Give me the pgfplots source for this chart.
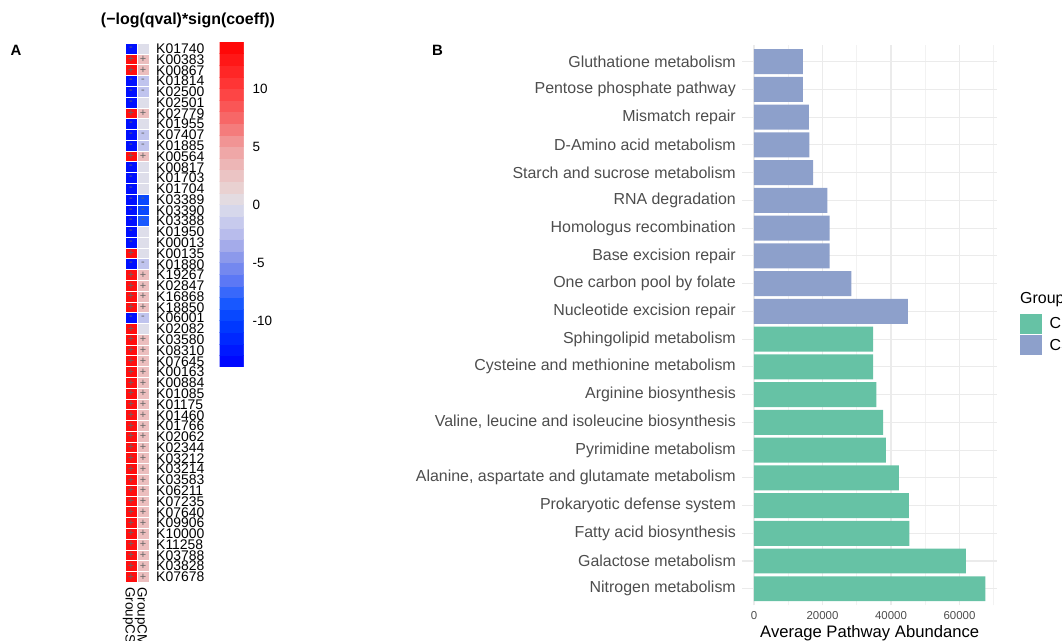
\documentclass[border=0pt]{standalone}
\usepackage{fontspec}
\setmainfont{Liberation Sans}
\usepackage{pgfplots}
\pgfplotsset{compat=1.18}
\definecolor{cpgreen}{HTML}{66C2A5}
\definecolor{csblue}{HTML}{8DA0CB}
\definecolor{axgrey}{HTML}{4D4D4D}
\newcommand{\fs}[1]{\fontsize{#1}{#1}\selectfont}
\begin{document}
\begin{tikzpicture}[x=1bp,y=1bp]
\pgfplotsset{
  colormap={bwr}{
    rgb255(0cm)=(0,0,255)
    rgb255(2cm)=(0,32,255)
    rgb255(4cm)=(0,64,255)
    rgb255(6cm)=(32,96,255)
    rgb255(7cm)=(80,112,248)
    rgb255(9cm)=(128,144,236)
    rgb255(11cm)=(176,180,234)
    rgb255(12cm)=(192,196,238)
    rgb255(14cm)=(222,222,234)
    rgb255(15cm)=(232,216,216)
    rgb255(17cm)=(236,190,190)
    rgb255(19cm)=(240,160,160)
    rgb255(21cm)=(245,112,112)
    rgb255(24cm)=(255,60,60)
    rgb255(28cm)=(255,0,0)
  }
}
% ---------------- Panel A: heatmap ----------------
\begin{axis}[
  at={(125bp,58.7bp)}, anchor=south west,
  scale only axis, width=24bp, height=539bp,
  xmin=-0.5, xmax=1.5, ymin=-0.5, ymax=49.5, y dir=reverse,
  axis line style={draw=none}, major tick length=0pt,
  xtick={0,1}, xticklabels={GroupCS,GroupCM},
  xticklabel style={yshift=-5bp, xshift=-2bp, rotate=-90, anchor=west, inner sep=0pt, font=\fs{13.5}},
  ytick={0,...,49},
  yticklabels={K01740,K00383,K00867,K01814,K02500,K02501,K02779,K01955,K07407,K01885,
    K00564,K00817,K01703,K01704,K03389,K03390,K03388,K01950,K00013,K00135,
    K01880,K19267,K02847,K16868,K18850,K06001,K02082,K03580,K08310,K07645,
    K00163,K00884,K01085,K01175,K01460,K01766,K02062,K02344,K03212,K03214,
    K03583,K06211,K07235,K07640,K09906,K10000,K11258,K03788,K03828,K07678},
  yticklabel pos=right,
  yticklabel style={anchor=west, inner sep=0pt, xshift=7bp, font=\fs{14}},
  point meta min=-14, point meta max=14,
  colorbar sampled,
  colorbar style={
    at={(parent axis.north east)}, anchor=north west,
    xshift=62bp, yshift=1.3bp,
    scale only axis, width=24bp, height=325bp,
    samples=29,
    axis line style={draw=none}, major tick length=0pt,
    ytick={-10,-5,0,5,10}, yticklabels={-10,-5,0,5,10},
    yticklabel style={anchor=west, inner sep=0pt, xshift=9bp, font=\fs{13.5}},
  },
]
\addplot[matrix plot, shader=faceted, mesh/cols=2, mesh/rows=50, point meta=explicit,
  faceted color=white, line width=0.9bp] table[meta=v] {
x y v
0 0 -13
1 0 0
0 1 13
1 1 3
0 2 13
1 2 3
0 3 -13
1 3 -2
0 4 -13
1 4 -2
0 5 -13
1 5 0
0 6 13
1 6 3
0 7 -13
1 7 0
0 8 -13
1 8 -2
0 9 -13
1 9 -2
0 10 13
1 10 3
0 11 -13
1 11 0
0 12 -13
1 12 0
0 13 -13
1 13 0
0 14 -13
1 14 -9.5
0 15 -13
1 15 -9.5
0 16 -13
1 16 -8.5
0 17 -13
1 17 0
0 18 -13
1 18 0
0 19 13
1 19 0
0 20 -13
1 20 -2
0 21 13
1 21 3
0 22 13
1 22 3
0 23 13
1 23 3
0 24 13
1 24 3
0 25 -13
1 25 -2
0 26 13
1 26 0
0 27 13
1 27 3
0 28 13
1 28 3
0 29 13
1 29 3
0 30 13
1 30 3
0 31 13
1 31 3
0 32 13
1 32 3
0 33 13
1 33 3
0 34 13
1 34 3
0 35 13
1 35 3
0 36 13
1 36 3
0 37 13
1 37 3
0 38 13
1 38 3
0 39 13
1 39 3
0 40 13
1 40 3
0 41 13
1 41 3
0 42 13
1 42 3
0 43 13
1 43 3
0 44 13
1 44 3
0 45 13
1 45 3
0 46 13
1 46 3
0 47 13
1 47 3
0 48 13
1 48 3
0 49 13
1 49 3
};
% plus signs
\addplot[only marks, mark=*, mark size=0pt, mark options={draw=none,fill=none},
  nodes near coords={+}, nodes near coords align={center},
  every node near coord/.append style={font=\fs{11}, text=black!60, inner sep=0pt}]
  coordinates {
  (0,1)(0,2)(0,6)(0,10)(0,19)(0,21)(0,22)(0,23)(0,24)(0,26)
  (0,27)(0,28)(0,29)(0,30)(0,31)(0,32)(0,33)(0,34)(0,35)(0,36)(0,37)(0,38)
  (0,39)(0,40)(0,41)(0,42)(0,43)(0,44)(0,45)(0,46)(0,47)(0,48)(0,49)
  (1,1)(1,2)(1,6)(1,10)(1,21)(1,22)(1,23)(1,24)
  (1,27)(1,28)(1,29)(1,30)(1,31)(1,32)(1,33)(1,34)(1,35)(1,36)(1,37)(1,38)
  (1,39)(1,40)(1,41)(1,42)(1,43)(1,44)(1,45)(1,46)(1,47)(1,48)(1,49)
  };
% minus signs
\addplot[only marks, mark=*, mark size=0pt, mark options={draw=none,fill=none},
  nodes near coords={-}, nodes near coords align={center},
  every node near coord/.append style={font=\fs{11}, text=black!60, inner sep=0pt}]
  coordinates {
  (0,0)(0,3)(0,4)(0,5)(0,7)(0,8)(0,9)(0,11)(0,12)(0,13)(0,14)(0,15)(0,16)
  (0,17)(0,18)(0,20)(0,25)
  (1,3)(1,4)(1,8)(1,9)(1,14)(1,15)(1,16)(1,20)(1,25)
  };
\end{axis}
% ---------------- Panel B: bar chart ----------------
\begin{axis}[
  at={(742.4bp,35.6bp)}, anchor=south west,
  scale only axis, width=254.5bp, height=560.3bp,
  xbar, bar width=0.9, bar shift=0pt,
  xmin=-3378, xmax=70930, ymin=0.4, ymax=20.6,
  axis line style={draw=none}, major tick length=0pt, minor tick length=0pt,
  scaled x ticks=false,
  xtick={0,20000,40000,60000}, xticklabels={0,20000,40000,60000},
  minor xtick={10000,30000,50000,70000},
  ytick={1,...,20},
  yticklabels={Nitrogen metabolism, Galactose metabolism, Fatty acid biosynthesis,
    Prokaryotic defense system, {Alanine, aspartate and glutamate metabolism},
    Pyrimidine metabolism, {Valine, leucine and isoleucine biosynthesis},
    Arginine biosynthesis, Cysteine and methionine metabolism,
    Sphingolipid metabolism\ , Nucleotide excision repair, One carbon pool by folate,
    Base excision repair, Homologus recombination, RNA degradation,
    Starch and sucrose metabolism, D-Amino acid metabolism, Mismatch repair,
    Pentose phosphate pathway, Gluthatione metabolism},
  grid=both,
  major grid style={draw=black!8, line width=1.1bp},
  minor grid style={draw=black!5, line width=0.6bp},
  xticklabel style={font=\fs{11.5}, text=axgrey, anchor=north, inner sep=0pt, yshift=-6bp},
  yticklabel style={font=\fs{16}, text=axgrey, anchor=east, inner sep=0pt, xshift=-6.4bp},
  xlabel={Average Pathway Abundance},
  xlabel style={at={(axis description cs:0.5,0)}, anchor=north, inner sep=0pt, yshift=-19.5bp, font=\fs{16.7}},
  legend style={at={(1.0908,0.5201)}, anchor=north west, draw=none, fill=none,
    inner sep=0pt, row sep=1.7bp, font=\fs{16},
    /tikz/every odd column/.append style={column sep=6bp}},
  legend cell align=left,
]
\addplot[fill=cpgreen, draw=none, bar shift=0pt,
  legend image code/.code={\fill[cpgreen] (0bp,-9.8bp) rectangle (21.5bp,9.8bp);}]
  coordinates {(67550,1) (61900,2) (45400,3) (45200,4) (42300,5) (38500,6)
               (37700,7) (35700,8) (34800,9) (34800,10)};
\addlegendentry{CP}
\addplot[fill=csblue, draw=none, bar shift=0pt,
  legend image code/.code={\fill[csblue] (0bp,-9.8bp) rectangle (21.5bp,9.8bp);}]
  coordinates {(44900,11) (28400,12) (22100,13) (22100,14) (21400,15) (17300,16)
               (16150,17) (16000,18) (14300,19) (14300,20)};
\addlegendentry{CS}
\end{axis}
% ---------------- texts ----------------
\node[font=\fs{16}\bfseries, inner sep=0pt] at (188,621) {(−log(qval)*sign(coeff))};
\node[font=\fs{15}\bfseries, inner sep=0pt] at (16,591) {A};
\node[font=\fs{15}\bfseries, inner sep=0pt] at (437.5,591) {B};
\node[font=\fs{16}, inner sep=0pt, anchor=west] at (1020,341) {Group};
\pgfresetboundingbox
\useasboundingbox (0,0) rectangle (1062,641);
\end{tikzpicture}
\end{document}
